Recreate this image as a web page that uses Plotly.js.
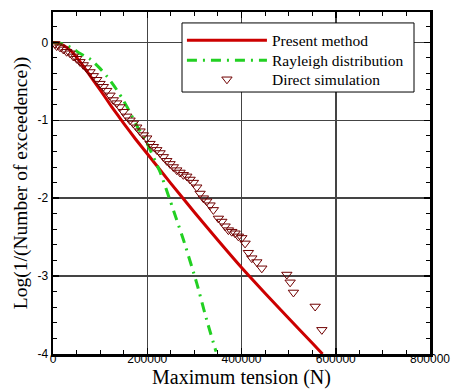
<!DOCTYPE html>
<html>
<head>
<meta charset="utf-8">
<script src="https://cdn.plot.ly/plotly-3.0.1.min.js"></script>
<style>html,body{margin:0;padding:0;background:#fff;}#chart{width:451px;height:389px;}</style>
</head>
<body>
<div id="chart"></div>
<script>
// Present method
var presentX = [0,10000,20000,40000,60000,80000,100000,125000,150000,175000,200000,250000,300000,350000,400000,450000,500000,550000,572000];
var presentY = [0,-0.01,-0.03,-0.12,-0.27,-0.44,-0.61,-0.83,-1.04,-1.24,-1.43,-1.81,-2.18,-2.54,-2.89,-3.22,-3.54,-3.86,-4.0];
// Rayleigh distribution
var rayleighX = [0,20000,40000,56700,80000,99100,115000,131000,145000,159200,180500,199000,227000,248000,262600,276600,305000,326000,346000];
var rayleighY = [0,-0.02,-0.07,-0.14,-0.22,-0.33,-0.44,-0.57,-0.70,-0.85,-1.10,-1.29,-1.66,-2.02,-2.28,-2.53,-3.09,-3.56,-3.97];
// Direct simulation
var simX = [4000,7800,14900,21900,29000,36100,43100,50300,57300,64300,71500,78600,85600,92800,99800,106800,114000,121000,128000,135200,142200,149300,156500,163500,170500,177700,184700,191700,198900,205900,213000,220200,227200,234200,241400,248400,255400,262600,269600,276600,283900,290900,297900,305100,312100,319100,326300,333300,340300,351000,358200,365200,372200,379400,386400,393400,400600,407600,414600,421900,432500,443100,496200,503200,510200,556300,570500];
var simY = [-0.02,-0.047,-0.064,-0.09,-0.12,-0.14,-0.18,-0.21,-0.25,-0.29,-0.33,-0.38,-0.43,-0.48,-0.53,-0.57,-0.62,-0.68,-0.74,-0.78,-0.83,-0.89,-0.95,-1.0,-1.04,-1.09,-1.14,-1.19,-1.23,-1.30,-1.34,-1.38,-1.42,-1.47,-1.52,-1.56,-1.60,-1.64,-1.67,-1.70,-1.72,-1.76,-1.80,-1.86,-1.94,-2.0,-2.04,-2.09,-2.15,-2.26,-2.30,-2.36,-2.41,-2.43,-2.45,-2.49,-2.51,-2.58,-2.70,-2.77,-2.82,-2.90,-2.98,-3.08,-3.21,-3.39,-3.69];
var seriesNames = ["Present method","Rayleigh distribution","Direct simulation"];
var xTickVals = [0,200000,400000,600000,800000];
var xTickText = ["0","200000","400000","600000","800000"];
var yTickVals = [0,-1,-2,-3,-4];
var yTickText = ["0","-1","-2","-3","-4"];

var traces = [
  {x: presentX, y: presentY, name: seriesNames[0], mode: 'lines', type: 'scatter', legend: 'legend',
   line: {color: '#cc0000', width: 3, shape: 'spline', smoothing: 0.5}},
  {x: rayleighX, y: rayleighY, name: seriesNames[1], mode: 'lines', type: 'scatter', legend: 'legend2',
   line: {color: '#22d022', width: 3, dash: '10px,6px,2px,6px', shape: 'spline', smoothing: 0.5}},
  {x: simX, y: simY, name: seriesNames[2], mode: 'markers', type: 'scatter', legend: 'legend3',
   marker: {symbol: 'triangle-down-open', size: 9, color: '#700000', line: {width: 1, color: '#700000'}}}
];

var axisCommon = {
  showline: true, linecolor: '#000', linewidth: 2.5, mirror: 'allticks',
  ticks: 'inside', tickcolor: '#000', tickwidth: 1.5, ticklen: 6,
  showgrid: true, gridcolor: '#444', gridwidth: 1.5, zeroline: false,
  tickfont: {family: 'Liberation Sans, Arial, sans-serif', size: 12, color: '#000'}
};

var legendFont = {family: 'Liberation Serif, Times New Roman, serif', size: 15.5, color: '#000'};
function legendAt(yp) {
  return {x: 0.342, y: yp, xanchor: 'left', yanchor: 'middle', bgcolor: 'rgba(0,0,0,0)',
          borderwidth: 0, font: legendFont, itemwidth: 80};
}

var layout = {
  width: 451, height: 389,
  margin: {l: 53, r: 21, t: 12, b: 35},
  paper_bgcolor: '#fff', plot_bgcolor: '#fff',
  showlegend: true,
  xaxis: Object.assign({}, axisCommon, {
    range: [0, 800000], tickvals: xTickVals, ticktext: xTickText, ticklabelstandoff: -8,
    minor: {dtick: 50000, ticks: 'inside', ticklen: 4, tickcolor: '#000', tickwidth: 1, showgrid: false},
    title: {text: 'Maximum tension (N)', font: {family: 'Liberation Serif, Times New Roman, serif', size: 20, color: '#000'}, standoff: 0}
  }),
  yaxis: Object.assign({}, axisCommon, {
    range: [-4, 0.39], tickvals: yTickVals, ticktext: yTickText,
    minor: {dtick: 0.2, ticks: 'inside', ticklen: 4, tickcolor: '#000', tickwidth: 1, showgrid: false},
    title: {text: 'Log(1/(Number of exceedence))', font: {family: 'Liberation Serif, Times New Roman, serif', size: 19.5, color: '#000'}, standoff: 5}
  }),
  legend: legendAt(0.916),
  legend2: legendAt(0.858),
  legend3: legendAt(0.802),
  shapes: [
    {type: 'rect', xref: 'paper', yref: 'paper', x0: 0.3422, x1: 0.9576, y0: 0.766, y1: 0.968,
     fillcolor: '#fff', line: {color: '#000', width: 1}, layer: 'above'}
  ]
};

Plotly.newPlot('chart', traces, layout, {displayModeBar: false, staticPlot: true});
</script>
</body>
</html>
